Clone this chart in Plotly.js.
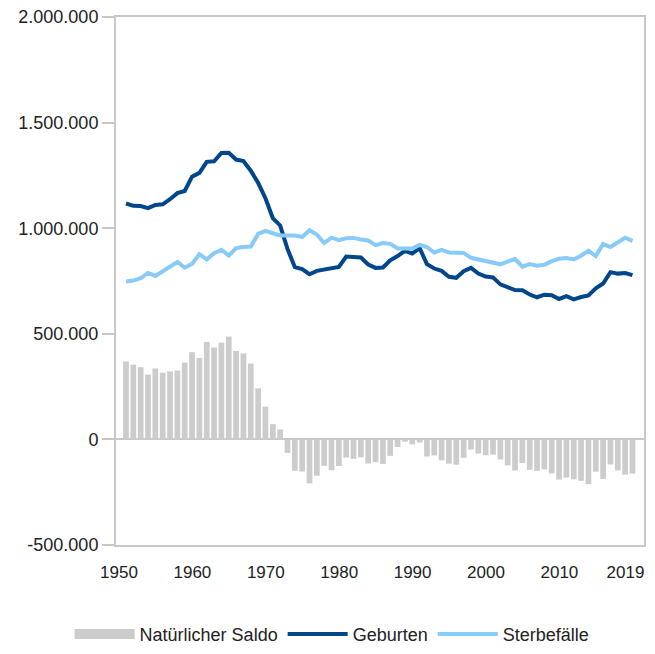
<!DOCTYPE html>
<html>
<head>
<meta charset="utf-8">
<script src="https://cdn.plot.ly/plotly-3.0.1.min.js"></script>
<style>
html,body{margin:0;padding:0;background:#fff;}
#chart{width:655px;height:654px;}
</style>
</head>
<body>
<div id="chart"></div>
<script>
const years = [];
for (let y = 1950; y <= 2019; y++) years.push(y);

const geburten = [
1117000,1106000,1105000,1095000,1110000,1113000,1137000,1166000,1176000,1244000,
1262000,1314000,1317000,1356000,1357000,1325000,1318000,1272000,1215000,1142000,
1048000,1013000,902000,816000,806000,782000,798000,805000,809000,817000,
866000,862000,861000,828000,812000,814000,848000,868000,893000,880000,
906000,830000,809000,798000,770000,765000,796000,812000,785000,771000,
767000,734000,719000,707000,706000,686000,673000,685000,683000,665000,
678000,663000,674000,682000,715000,738000,792000,785000,788000,778000];

const sterbefaelle = [
748000,752000,763000,788000,774000,797000,815000,840000,813000,831000,
877000,852000,882000,898000,870000,906000,911000,913000,973000,987000,
976000,966000,966000,965000,958000,990000,970000,930000,955000,943000,
952000,954000,946000,942000,920000,930000,926000,904000,904000,904000,
921000,911000,885000,897000,885000,885000,883000,860000,852000,846000,
839000,829000,842000,854000,818000,830000,822000,827000,844000,855000,
859000,852000,870000,894000,868000,925000,911000,932000,955000,940000];

const saldo = [
369000,354000,342000,307000,336000,316000,322000,326000,363000,413000,
385000,462000,435000,458000,487000,419000,407000,359000,242000,155000,
72000,47000,-64000,-149000,-152000,-208000,-172000,-125000,-146000,-126000,
-86000,-92000,-85000,-114000,-108000,-116000,-78000,-36000,-11000,-24000,
-15000,-81000,-76000,-99000,-115000,-120000,-87000,-48000,-67000,-75000,
-72000,-95000,-123000,-147000,-112000,-144000,-149000,-142000,-161000,-190000,
-181000,-189000,-196000,-212000,-153000,-187000,-119000,-147000,-167000,-162000];

const xTickVals = [1950,1960,1970,1980,1990,2000,2010,2019];
const xTickText = ['1950','1960','1970','1980','1990','2000','2010','2019'];
const yTickVals = [-500000,0,500000,1000000,1500000,2000000];
const yTickText = ['-500.000','0','500.000','1.000.000','1.500.000','2.000.000'];

const FONT = '"Liberation Sans", Arial, sans-serif';
const AXC = '#c8c8c8';
const SALDO_C = '#cccccc';

const traces = [
  {type:'bar', name:'Natürlicher Saldo', x:years, y:saldo, legendgroup:'saldo',
   showlegend:false, marker:{color:SALDO_C, line:{width:0}}},
  // legend-only entry drawn as a wide grey block like the original legend key
  {type:'scatter', mode:'lines', name:'Natürlicher Saldo', legendgroup:'saldo',
   x:[null], y:[null], line:{color:SALDO_C, width:13}, hoverinfo:'skip'},
  {type:'scatter', mode:'lines', name:'Geburten', x:years, y:geburten,
   line:{color:'#00468b', width:4}},
  {type:'scatter', mode:'lines', name:'Sterbefälle', x:years, y:sterbefaelle,
   line:{color:'#88cbf8', width:4}}
];

const layout = {
  width:655, height:654,
  margin:{l:116, r:11, t:17, b:109, pad:0},
  paper_bgcolor:'#fff', plot_bgcolor:'#fff',
  font:{family:FONT, size:17, color:'#222'},
  bargap:0.22,
  showlegend:true,
  xaxis:{
    range:[1948.64, 2020.57], tickvals:xTickVals, ticktext:xTickText,
    ticks:'', showgrid:false, zeroline:false,
    showline:true, mirror:true, linecolor:AXC, linewidth:2,
    ticklabelshift:-7, ticklabelstandoff:11,
    tickfont:{family:FONT, size:17, color:'#222'}
  },
  yaxis:{
    range:[-500000, 2000000], tickvals:yTickVals, ticktext:yTickText,
    ticks:'outside', ticklen:12, tickwidth:2, tickcolor:AXC,
    showgrid:false, zeroline:true, zerolinecolor:AXC, zerolinewidth:2,
    showline:true, mirror:true, linecolor:AXC, linewidth:2,
    tickfont:{family:FONT, size:18, color:'#222'}
  },
  legend:{
    orientation:'h', xref:'container', yref:'container',
    x:0.507, xanchor:'center', y:0.03, yanchor:'middle',
    font:{family:FONT, size:18, color:'#222'},
    itemwidth:60, traceorder:'normal', tracegroupgap:0
  }
};

Plotly.newPlot('chart', traces, layout, {displayModeBar:false, staticPlot:true});
</script>
</body>
</html>
